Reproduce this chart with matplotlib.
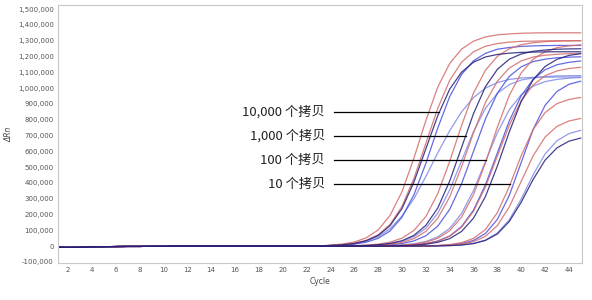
import matplotlib
matplotlib.use("Agg")
import matplotlib.pyplot as plt
import numpy as np

# ---------------- data (values in thousands of ΔRn) ----------------
cycles_base = list(range(1, 24))
baseline = [-6, -8, -7, -5, -4, -3, -2, -2, -1, -1, 0, 0, 0, 0, 0, 0, 0, 0, 0, 0, 0, 0, 0]
cycles_rise = list(range(24, 46))

# group 1 : 10,000 copies
g1_red_a = [6.3, 13, 26, 52, 102, 194, 344, 556, 794, 1006, 1156, 1247, 1297, 1324, 1337, 1343, 1347, 1349, 1350, 1350, 1350, 1350]
g1_navy = [4.1, 8.2, 16.7, 34, 67, 129, 237, 405, 615, 825, 993, 1101, 1164, 1197, 1213, 1221, 1226, 1228, 1229, 1230, 1230, 1230]
g1_red_b = [4.3, 8.7, 17.7, 36, 71, 137, 251, 428, 650, 872, 1049, 1164, 1230, 1265, 1282, 1291, 1296, 1297, 1299, 1300, 1300, 1300]
g1_blue = [2.9, 6.0, 12.2, 24.5, 49, 96, 183, 324, 523, 747, 946, 1087, 1173, 1220, 1246, 1257, 1264, 1267, 1269, 1270, 1270, 1270]
g1_light = [4, 8, 16, 32, 60, 110, 190, 300, 440, 590, 730, 850, 940, 1000, 1035, 1055, 1064, 1068, 1070, 1070, 1070, 1070]

# group 2 : 1,000 copies
g2_red_a = [0.8, 1.4, 3.0, 6.1, 12.5, 25, 50, 99, 187, 332, 536, 764, 969, 1113, 1201, 1249, 1275, 1287, 1294, 1297, 1299, 1300]
g2_navy = [0.5, 1.0, 2.0, 4.1, 8.4, 17, 34, 68, 131, 241, 411, 625, 839, 1009, 1119, 1183, 1216, 1233, 1241, 1246, 1248, 1249]
g2_light = [0.4, 0.9, 1.7, 3.6, 7.2, 14.7, 30, 59, 113, 208, 355, 540, 725, 872, 967, 1022, 1051, 1065, 1072, 1077, 1078, 1079]
g2_red_b = [0.4, 0.7, 1.3, 2.8, 5.7, 11.7, 23.5, 47, 93, 176, 311, 503, 717, 909, 1044, 1127, 1172, 1197, 1208, 1214, 1218, 1219]
g2_blue = [0.2, 0.5, 1.0, 1.9, 4.0, 8.0, 16.3, 33, 65, 126, 232, 395, 600, 805, 968, 1074, 1135, 1168, 1183, 1192, 1196, 1198]

# group 3 : 100 copies
g3_red_a = [0.1, 0.1, 0.4, 0.8, 1.4, 2.9, 6.0, 12.3, 25, 49, 97, 184, 326, 527, 753, 954, 1096, 1183, 1230, 1256, 1267, 1274]
g3_blue = [0, 0.1, 0.2, 0.5, 0.9, 1.9, 3.9, 7.9, 16, 32, 64, 124, 228, 388, 590, 792, 952, 1056, 1116, 1148, 1163, 1172]
g3_red_b = [0, 0.1, 0.2, 0.5, 0.9, 1.8, 3.8, 7.6, 15.5, 31, 62, 120, 220, 375, 570, 765, 920, 1020, 1078, 1109, 1124, 1132]
g3_light = [0.1, 0.2, 0.4, 0.9, 1.7, 3.5, 7.2, 14.6, 29, 58, 112, 207, 352, 535, 718, 863, 958, 1012, 1041, 1055, 1063, 1067]
g3_navy = [0, 0.1, 0.1, 0.4, 0.7, 1.4, 2.8, 5.8, 11.8, 24, 47, 93, 177, 314, 507, 723, 916, 1053, 1137, 1182, 1207, 1218]

# group 4 : 10 copies
g4_red_a = [0, 0, 0, 0, 0.1, 0.2, 0.4, 0.8, 1.8, 4.2, 9.6, 22, 49, 105, 212, 377, 573, 738, 845, 902, 928, 941]
g4_blue = [0, 0, 0, 0, 0, 0.1, 0.3, 0.6, 1.3, 3.1, 7.1, 16, 36, 80, 169, 321, 530, 739, 891, 979, 1024, 1044]
g4_red_b = [0, 0, 0, 0, 0, 0.1, 0.2, 0.5, 1.0, 2.4, 5.5, 12.5, 28, 62, 130, 248, 410, 572, 690, 758, 792, 808]
g4_light = [0, 0, 0, 0, 0, 0.1, 0.2, 0.3, 0.6, 1.4, 3.3, 7.6, 17, 38, 83, 167, 298, 452, 583, 667, 712, 733]
g4_navy = [0, 0, 0, 0, 0, 0.1, 0.1, 0.3, 0.6, 1.3, 3.1, 7.1, 16, 36, 77, 156, 278, 422, 544, 622, 664, 684]

curves = [
    (g1_light, "light"), (g2_light, "light"), (g3_light, "light"), (g4_light, "light"),
    (g1_blue, "blue"), (g2_blue, "blue"), (g3_blue, "blue"), (g4_blue, "blue"),
    (g1_red_a, "red"), (g1_red_b, "red"), (g2_red_a, "red"), (g2_red_b, "red"),
    (g3_red_a, "red"), (g3_red_b, "red"), (g4_red_a, "red"), (g4_red_b, "red"),
    (g1_navy, "navy"), (g2_navy, "navy"), (g3_navy, "navy"), (g4_navy, "navy"),
]

labels = ["10,000 个拷贝", "1,000 个拷贝", "100 个拷贝", "10 个拷贝"]
label_levels = [848, 696, 544, 392]          # thousands
label_curves = [g1_navy, g2_navy, g3_red_a, g4_red_a]

yticks = list(range(-100000, 1500001, 100000))
xticks = list(range(2, 45, 2))

# ---------------- drawing ----------------
colors = {"red": "#d46a6a", "blue": "#4a50dc", "light": "#7f8ae6", "navy": "#24207a"}

fig = plt.figure(figsize=(5.92, 3.0), dpi=100)
ax = fig.add_axes([0.098, 0.123, 0.885, 0.860])

x_all = np.array(cycles_base + cycles_rise)
for vals, kind in curves:
    y = np.array(baseline + vals) * 1000
    ax.plot(x_all, y, color=colors[kind], lw=0.9, alpha=0.85, solid_capstyle="round")

ax.set_xlim(1.16, 45.09)
ax.set_ylim(-107600, 1525300)
ax.set_xticks(xticks)
ax.set_yticks(yticks)
ax.set_yticklabels([f"{v:,}" for v in yticks])
ax.tick_params(axis="both", length=0, labelsize=5, labelcolor="#555555", pad=3)
for sp in ax.spines.values():
    sp.set_color("#c8c8c8")
    sp.set_linewidth(0.8)

ax.set_xlabel("Cycle", fontsize=5.5, color="#444444", labelpad=3)
ax.set_ylabel("ΔRn", fontsize=5.5, color="#444444", style="italic", labelpad=3)

cjk = ["Noto Sans CJK SC", "DejaVu Sans"]
x_text_end = 24.3
for lab, lev, cur in zip(labels, label_levels, label_curves):
    yy = np.array(baseline + cur)
    x_cross = np.interp(lev, yy[23:], x_all[23:])
    ax.plot([x_text_end, x_cross], [lev * 1000, lev * 1000], color="black", lw=0.9, zorder=5)
    ax.text(x_text_end - 0.75, lev * 1000, lab, ha="right", va="center",
            fontsize=9.5, family=cjk, color="#222222")

fig.savefig("out.png", dpi=100)
